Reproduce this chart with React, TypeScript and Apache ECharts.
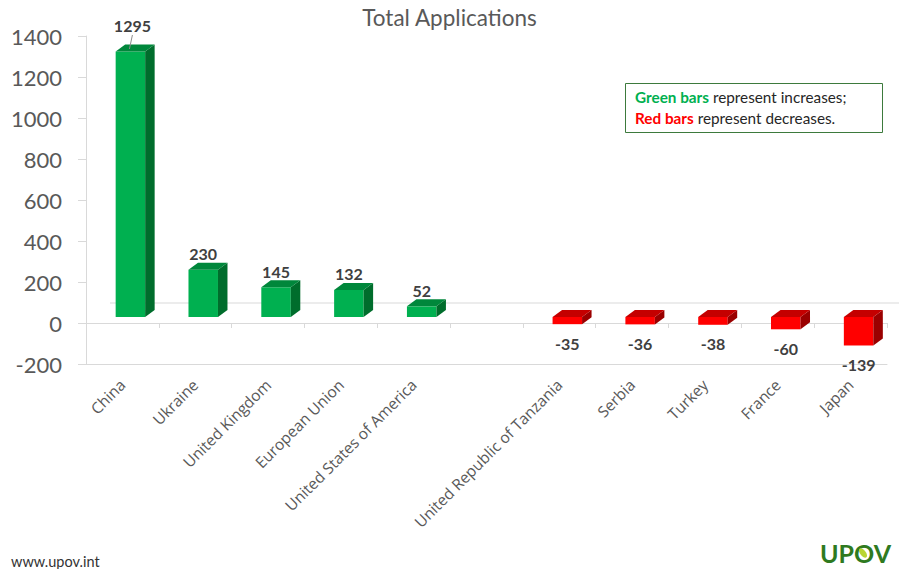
import React, { useEffect, useRef } from "react";
import * as echarts from "echarts";

const categories = [
  "China",
  "Ukraine",
  "United Kingdom",
  "European Union",
  "United States of America",
  "",
  "United Republic of Tanzania",
  "Serbia",
  "Turkey",
  "France",
  "Japan",
];
const values: (number | null)[] = [1295, 230, 145, 132, 52, null, -35, -36, -38, -60, -139];
const yMin = -200;
const yMax = 1400;
const yInterval = 200;
const titleText = "Total Applications";
const legendLine1 = ["Green bars", " represent increases;"];
const legendLine2 = ["Red bars", " represent decreases."];
const footerText = "www.upov.int";
const logoText = "UPOV";

const GREEN = { front: "#00b050", top: "#00873b", side: "#006d2c" };
const RED = { front: "#ff0000", top: "#c40000", side: "#9a0000" };

export default function App() {
  const ref = useRef<HTMLDivElement>(null);
  useEffect(() => {
    if (!ref.current) return;
    const chart = echarts.init(ref.current, null, { renderer: "svg" });
    const shiftX = 8;
    const shiftY = -6;
    const depthX = 9.5;
    const depthY = -7;

    const renderItem = (params: any, api: any) => {
      const idx = api.value(0);
      const v = api.value(1);
      const children: any[] = [];
      const cs = params.coordSys;
      if (params.dataIndex === 0) {
        const z = api.coord([0, 0]);
        children.push({
          type: "line",
          shape: { x1: cs.x + 24, y1: z[1] - 20, x2: 899, y2: z[1] - 20 },
          style: { stroke: "#d9d9d9", lineWidth: 1 },
        });
      }
      if (v === null || v === undefined || isNaN(v)) {
        return { type: "group", children };
      }
      const p0 = api.coord([idx, 0]);
      const pv = api.coord([idx, v]);
      const band = api.size([1, 0])[0];
      const w = band * 0.405;
      const cx = p0[0] + shiftX;
      const xl = cx - w / 2;
      const xr = cx + w / 2;
      const yTop = Math.min(p0[1], pv[1]) + shiftY;
      const yBot = Math.max(p0[1], pv[1]) + shiftY;
      const c = v >= 0 ? GREEN : RED;
      children.push({
        type: "rect",
        shape: { x: xl, y: yTop, width: w, height: yBot - yTop },
        style: { fill: c.front },
      });
      children.push({
        type: "polygon",
        shape: {
          points: [
            [xr, yTop],
            [xr + depthX, yTop + depthY],
            [xr + depthX, yBot + depthY],
            [xr, yBot],
          ],
        },
        style: { fill: c.side },
      });
      children.push({
        type: "polygon",
        shape: {
          points: [
            [xl, yTop],
            [xr, yTop],
            [xr + depthX, yTop + depthY],
            [xl + depthX, yTop + depthY],
          ],
        },
        style: { fill: c.top },
      });
      const labelStyle = {
        fill: "#404040",
        font: "bold 16px Lato",
        align: "center",
        verticalAlign: "middle",
        text: String(v),
      };
      if (v >= 0) {
        let ly = yTop + depthY - 9;
        let lx = cx;
        if (ly < 42) {
          ly = 25;
          lx = cx + 2;
          children.push({
            type: "line",
            shape: { x1: lx, y1: 35, x2: cx - 1, y2: yTop + depthY / 2 + 1 },
            style: { stroke: "#8c8c8c", lineWidth: 1 },
          });
        }
        children.push({ type: "text", x: lx, y: ly, style: labelStyle });
      } else {
        children.push({ type: "text", x: cx, y: yBot + 19, style: labelStyle });
      }
      return { type: "group", children };
    };

    chart.setOption({
      animation: false,
      backgroundColor: "#ffffff",
      title: {
        text: titleText,
        left: "center",
        top: 6,
        padding: 0,
        textStyle: { fontFamily: "Lato", fontSize: 22.5, fontWeight: "normal", color: "#595959" },
      },
      grid: { left: 86, right: 12, top: 36, bottom: 205, containLabel: false },
      xAxis: [
        {
          type: "category",
          data: categories,
          axisLine: { onZero: true, lineStyle: { color: "#d9d9d9", width: 1 } },
          axisTick: { show: true, length: 5, lineStyle: { color: "#d9d9d9" } },
          axisLabel: {
            interval: 0,
            rotate: 45,
            margin: 18,
            fontFamily: "Open Sans",
            fontSize: 15.5,
            color: "#595959",
          },
          splitLine: { show: false },
        },
        {
          type: "category",
          data: categories,
          position: "bottom",
          axisLine: { onZero: false, lineStyle: { color: "#d9d9d9", width: 1 } },
          axisTick: { show: false },
          axisLabel: { show: false },
          splitLine: { show: false },
        },
      ],
      yAxis: {
        type: "value",
        min: yMin,
        max: yMax,
        interval: yInterval,
        axisLine: { show: true, lineStyle: { color: "#d9d9d9", width: 1 } },
        axisTick: { show: true, length: 8, lineStyle: { color: "#d9d9d9" } },
        axisLabel: {
          margin: 24,
          fontFamily: "Lato",
          fontSize: 22,
          color: "#595959",
          formatter: (val: number) => String(val),
        },
        splitLine: { show: false },
      },
      series: [
        {
          type: "custom",
          renderItem,
          encode: { x: 0, y: 1 },
          data: values.map((v, i) => [i, v === null ? "-" : v]),
          clip: false,
        },
      ],
      graphic: [
        {
          type: "rect",
          shape: { x: 625.5, y: 83.5, width: 257, height: 49 },
          style: { fill: "#ffffff", stroke: "#3d7a3d", lineWidth: 1 },
        },
        {
          type: "text",
          x: 635,
          y: 97,
          style: {
            text: `{g|${legendLine1[0]}}{n|${legendLine1[1]}}`,
            verticalAlign: "middle",
            rich: {
              g: { fill: "#00b050", font: "bold 15.3px Lato" },
              n: { fill: "#262626", font: "15.3px Lato" },
            },
          },
        },
        {
          type: "text",
          x: 635,
          y: 118,
          style: {
            text: `{r|${legendLine2[0]}}{n|${legendLine2[1]}}`,
            verticalAlign: "middle",
            rich: {
              r: { fill: "#ff0000", font: "bold 15.3px Lato" },
              n: { fill: "#262626", font: "15.3px Lato" },
            },
          },
        },
        {
          type: "text",
          x: 11,
          y: 561,
          style: {
            text: footerText,
            fill: "#333333",
            font: "14.5px Lato",
            verticalAlign: "middle",
          },
        },
        {
          type: "text",
          x: 820,
          y: 553,
          style: {
            text: logoText,
            fill: "#2f7a1f",
            font: "bold 25px Lato",
            verticalAlign: "middle",
          },
        },
        {
          type: "ellipse",
          x: 863,
          y: 553,
          rotation: -0.9,
          shape: { cx: 0, cy: 0, rx: 5.5, ry: 2.8 },
          style: { fill: "#b9d532" },
        },
      ],
    });
    return () => chart.dispose();
  }, []);
  return (
    <div
      ref={ref}
      style={{ position: "absolute", left: 0, top: 0, width: 899, height: 569 }}
    />
  );
}
